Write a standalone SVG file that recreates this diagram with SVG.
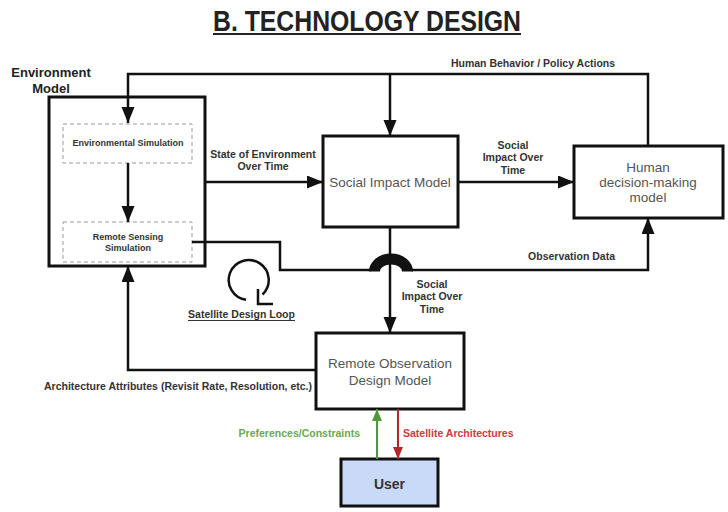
<svg xmlns="http://www.w3.org/2000/svg" width="728" height="512" viewBox="0 0 728 512">
<style>
  .box { fill: #ffffff; stroke: #111111; stroke-width: 3; }
  .dash { fill: #ffffff; stroke: #999999; stroke-width: 1; stroke-dasharray: 4 3; }
  .lbl { font-family: "Liberation Sans", Arial, sans-serif; font-weight: bold; font-size: 10.5px; fill: #333333; }
  .sub { font-family: "Liberation Sans", Arial, sans-serif; font-weight: bold; font-size: 9px; fill: #333333; text-anchor: middle; }
  .node { font-family: "Liberation Sans", Arial, sans-serif; font-size: 13.5px; fill: #555555; text-anchor: middle; }
  .conn { fill: none; stroke: #111111; stroke-width: 2.5; }
</style>
<defs>
  <marker id="ah" markerUnits="userSpaceOnUse" markerWidth="17" markerHeight="14" refX="16" refY="6.5" orient="auto">
    <path d="M0,0 L16,6.5 L0,13 z" fill="#111111"/>
  </marker>
  <marker id="ahg" markerUnits="userSpaceOnUse" markerWidth="13" markerHeight="11" refX="12" refY="5" orient="auto">
    <path d="M0,0 L12,5 L0,10 z" fill="#4e9a3a"/>
  </marker>
  <marker id="ahr" markerUnits="userSpaceOnUse" markerWidth="13" markerHeight="11" refX="12" refY="5" orient="auto">
    <path d="M0,0 L12,5 L0,10 z" fill="#b3262a"/>
  </marker>
</defs>
<rect width="728" height="512" fill="#ffffff"/>

<g id="title">
  <text x="367" y="31" font-family="Liberation Sans, Arial, sans-serif" font-weight="bold" font-size="29" fill="#222222" text-anchor="middle" textLength="308" lengthAdjust="spacingAndGlyphs">B. TECHNOLOGY DESIGN</text>
  <rect x="213" y="33" width="308" height="2" fill="#222222"/>
</g>

<g id="environment-model">
  <text x="51" y="77" font-family="Liberation Sans, Arial, sans-serif" font-weight="bold" font-size="13" fill="#222222" text-anchor="middle">Environment</text>
  <text x="51" y="93" font-family="Liberation Sans, Arial, sans-serif" font-weight="bold" font-size="13" fill="#222222" text-anchor="middle">Model</text>
  <rect class="box" x="49" y="97" width="156" height="169"/>
</g>
<g id="environmental-simulation">
  <rect class="dash" x="63" y="124" width="129" height="39"/>
  <text class="sub" x="128" y="146">Environmental Simulation</text>
</g>
<g id="remote-sensing-simulation">
  <rect class="dash" x="63" y="222" width="129" height="40"/>
  <text class="sub" x="128" y="240">Remote Sensing</text>
  <text class="sub" x="128" y="251">Simulation</text>
</g>

<g id="social-impact-model">
  <rect class="box" x="323" y="136" width="135" height="91"/>
  <text class="node" x="390" y="187">Social Impact Model</text>
</g>

<g id="human-decision-making-model">
  <rect class="box" x="574" y="146" width="149" height="72"/>
  <text class="node" x="648" y="172">Human</text>
  <text class="node" x="648" y="187">decision-making</text>
  <text class="node" x="648" y="202">model</text>
</g>

<g id="remote-observation-design-model">
  <rect class="box" x="316" y="333" width="148" height="76"/>
  <text class="node" x="390" y="368">Remote Observation</text>
  <text class="node" x="390" y="385">Design Model</text>
</g>

<g id="user">
  <rect x="341" y="459" width="97" height="47" fill="#c9daf8" stroke="#111111" stroke-width="3"/>
  <text x="389.5" y="489" font-family="Liberation Sans, Arial, sans-serif" font-weight="bold" font-size="14" fill="#333333" text-anchor="middle">User</text>
</g>

<g id="satellite-design-loop">
  <path d="M246,299.8 A20,20 0 1 1 262.5,294.5" fill="none" stroke="#111111" stroke-width="2.5"/>
  <path d="M258,289 L258,304 L273,304" fill="none" stroke="#111111" stroke-width="2.5"/>
  <text x="241.5" y="318" font-family="Liberation Sans, Arial, sans-serif" font-weight="bold" font-size="10.5" fill="#333333" text-anchor="middle">Satellite Design Loop</text>
  <rect x="188" y="320" width="107" height="1" fill="#333333"/>
</g>

<g id="connectors">
  <path class="conn" d="M648,146 L648,74 L128,74 L128,123" marker-end="url(#ah)"/>
  <path class="conn" d="M390,74 L390,136" marker-end="url(#ah)"/>
  <path class="conn" d="M128,163 L128,222" marker-end="url(#ah)"/>
  <path class="conn" d="M205,182 L323,182" marker-end="url(#ah)"/>
  <path class="conn" d="M458,182 L574,182" marker-end="url(#ah)"/>
  <path class="conn" d="M192,242 L280,242 L280,270 L371,270"/>
  <path class="conn" d="M411,270 L648,270 L648,218" marker-end="url(#ah)"/>
  <path d="M369,271.5 A22,18 0 0 1 413,271.5 L402,271.5 A11,7 0 0 0 380,271.5 Z" fill="#111111"/>
  <path class="conn" d="M390,227 L390,333" marker-end="url(#ah)"/>
  <path class="conn" d="M316,370 L128,370 L128,266" marker-end="url(#ah)"/>
  <path fill="none" stroke="#4e9a3a" stroke-width="2" d="M377,459 L377,409" marker-end="url(#ahg)"/>
  <path fill="none" stroke="#b3262a" stroke-width="2" d="M398,409 L398,459" marker-end="url(#ahr)"/>
</g>

<g id="labels">
  <text class="lbl" x="533" y="67" text-anchor="middle">Human Behavior / Policy Actions</text>
  <text class="lbl" x="263" y="158" text-anchor="middle">State of Environment</text>
  <text class="lbl" x="263" y="170" text-anchor="middle">Over Time</text>
  <text class="lbl" x="513" y="149" text-anchor="middle">Social</text>
  <text class="lbl" x="513" y="161" text-anchor="middle">Impact Over</text>
  <text class="lbl" x="513" y="174" text-anchor="middle">Time</text>
  <text class="lbl" x="615" y="260" text-anchor="end">Observation Data</text>
  <text class="lbl" x="432" y="288" text-anchor="middle">Social</text>
  <text class="lbl" x="432" y="300" text-anchor="middle">Impact Over</text>
  <text class="lbl" x="432" y="313" text-anchor="middle">Time</text>
  <text class="lbl" x="312" y="390" text-anchor="end">Architecture Attributes (Revisit Rate, Resolution, etc.)</text>
  <text class="lbl" x="360" y="437" text-anchor="end" style="fill:#6aa84f">Preferences/Constraints</text>
  <text class="lbl" x="403" y="437" style="fill:#cc3b3b">Satellite Architectures</text>
</g>
</svg>
